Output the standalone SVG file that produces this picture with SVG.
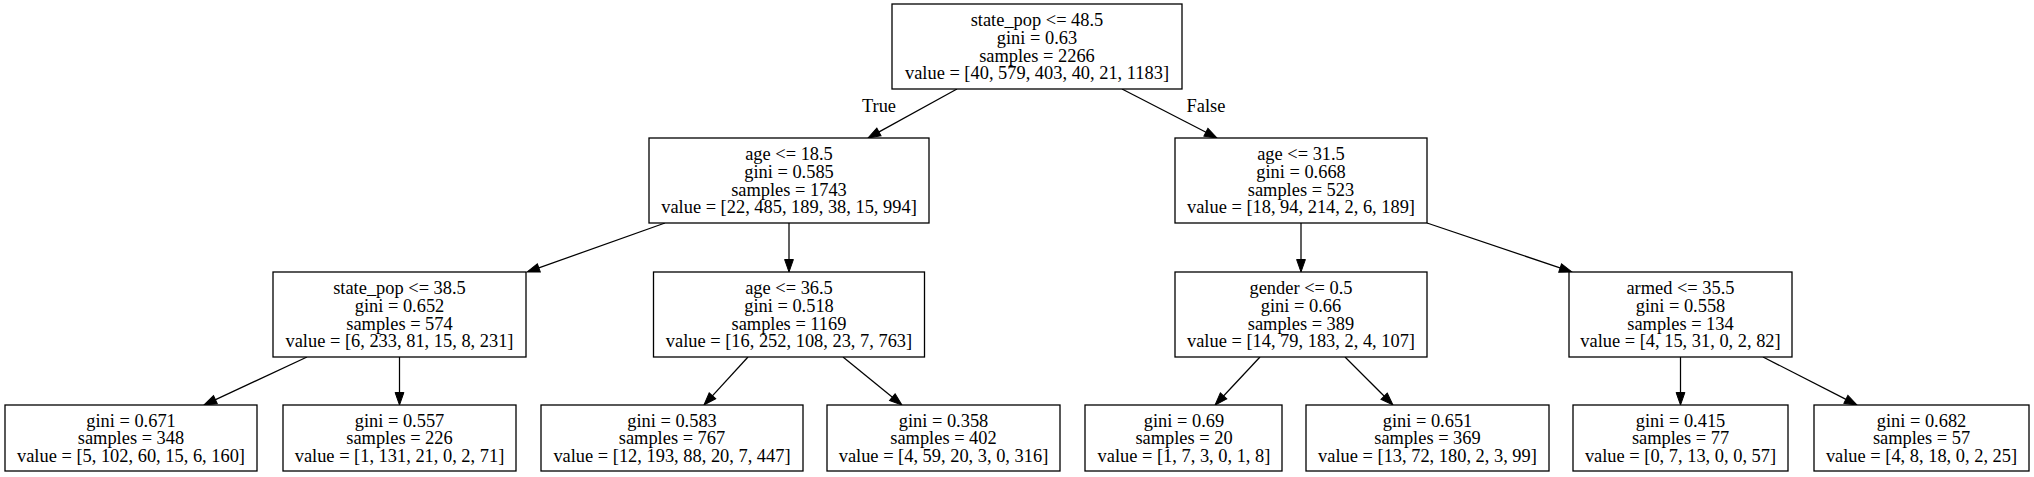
<svg xmlns="http://www.w3.org/2000/svg" width="2034" height="477" viewBox="0 0 2034 477">
<style>
.box{fill:#fff;stroke:#000;stroke-width:1.3}
text{font-family:"Liberation Serif","Times New Roman",serif;font-size:18.4px;fill:#000;text-anchor:middle}
.edge{stroke:#000;stroke-width:1.25;fill:none;marker-end:url(#ah)}
</style>
<defs>
<marker id="ah" markerUnits="userSpaceOnUse" markerWidth="13" markerHeight="9" refX="4.5" refY="4.4" orient="auto" overflow="visible">
<path d="M0,0 L12.5,4.4 L0,8.8 z" fill="#000" stroke="#000" stroke-width="1"/>
</marker>
</defs>
<rect width="2034" height="477" fill="#fff"/>
<g id="edges">
<line class="edge" x1="957" y1="89" x2="875" y2="134.1"/>
<line class="edge" x1="1122" y1="89" x2="1209.9" y2="134.3"/>
<line class="edge" x1="665" y1="223" x2="534.6" y2="269.4"/>
<line class="edge" x1="789" y1="223" x2="789" y2="264"/>
<line class="edge" x1="1301" y1="223" x2="1301" y2="264"/>
<line class="edge" x1="1427" y1="223" x2="1564.4" y2="269.4"/>
<line class="edge" x1="307" y1="357" x2="211.3" y2="401.6"/>
<line class="edge" x1="399.5" y1="357" x2="399.5" y2="397"/>
<line class="edge" x1="748" y1="357" x2="709.4" y2="399.1"/>
<line class="edge" x1="843" y1="357" x2="895.8" y2="400"/>
<line class="edge" x1="1260" y1="357" x2="1220.5" y2="399.2"/>
<line class="edge" x1="1345" y1="357" x2="1387.3" y2="399.3"/>
<line class="edge" x1="1680.5" y1="357" x2="1680.5" y2="397"/>
<line class="edge" x1="1763" y1="357" x2="1849.9" y2="401.4"/>
<text x="879" y="112">True</text>
<text x="1206" y="112">False</text>
</g>
<g id="n0">
<rect class="box" x="892" y="4" width="290" height="85"/>
<text x="1037" y="26">state_pop &lt;= 48.5</text>
<text x="1037" y="43.8">gini = 0.63</text>
<text x="1037" y="61.6">samples = 2266</text>
<text x="1037" y="79.4">value = [40, 579, 403, 40, 21, 1183]</text>
</g>
<g id="n1">
<rect class="box" x="649" y="138" width="280" height="85"/>
<text x="789" y="160">age &lt;= 18.5</text>
<text x="789" y="177.8">gini = 0.585</text>
<text x="789" y="195.6">samples = 1743</text>
<text x="789" y="213.4">value = [22, 485, 189, 38, 15, 994]</text>
</g>
<g id="n2">
<rect class="box" x="273" y="272" width="253" height="85"/>
<text x="399.5" y="294">state_pop &lt;= 38.5</text>
<text x="399.5" y="311.8">gini = 0.652</text>
<text x="399.5" y="329.6">samples = 574</text>
<text x="399.5" y="347.4">value = [6, 233, 81, 15, 8, 231]</text>
</g>
<g id="n3">
<rect class="box" x="5" y="405" width="252" height="66"/>
<text x="131" y="426.5">gini = 0.671</text>
<text x="131" y="444.3">samples = 348</text>
<text x="131" y="462.1">value = [5, 102, 60, 15, 6, 160]</text>
</g>
<g id="n4">
<rect class="box" x="283" y="405" width="233" height="66"/>
<text x="399.5" y="426.5">gini = 0.557</text>
<text x="399.5" y="444.3">samples = 226</text>
<text x="399.5" y="462.1">value = [1, 131, 21, 0, 2, 71]</text>
</g>
<g id="n5">
<rect class="box" x="653.5" y="272" width="271" height="85"/>
<text x="789" y="294">age &lt;= 36.5</text>
<text x="789" y="311.8">gini = 0.518</text>
<text x="789" y="329.6">samples = 1169</text>
<text x="789" y="347.4">value = [16, 252, 108, 23, 7, 763]</text>
</g>
<g id="n6">
<rect class="box" x="541" y="405" width="262" height="66"/>
<text x="672" y="426.5">gini = 0.583</text>
<text x="672" y="444.3">samples = 767</text>
<text x="672" y="462.1">value = [12, 193, 88, 20, 7, 447]</text>
</g>
<g id="n7">
<rect class="box" x="827" y="405" width="233" height="66"/>
<text x="943.5" y="426.5">gini = 0.358</text>
<text x="943.5" y="444.3">samples = 402</text>
<text x="943.5" y="462.1">value = [4, 59, 20, 3, 0, 316]</text>
</g>
<g id="n8">
<rect class="box" x="1175" y="138" width="252" height="85"/>
<text x="1301" y="160">age &lt;= 31.5</text>
<text x="1301" y="177.8">gini = 0.668</text>
<text x="1301" y="195.6">samples = 523</text>
<text x="1301" y="213.4">value = [18, 94, 214, 2, 6, 189]</text>
</g>
<g id="n9">
<rect class="box" x="1175" y="272" width="252" height="85"/>
<text x="1301" y="294">gender &lt;= 0.5</text>
<text x="1301" y="311.8">gini = 0.66</text>
<text x="1301" y="329.6">samples = 389</text>
<text x="1301" y="347.4">value = [14, 79, 183, 2, 4, 107]</text>
</g>
<g id="n10">
<rect class="box" x="1085" y="405" width="197" height="66"/>
<text x="1184" y="426.5">gini = 0.69</text>
<text x="1184" y="444.3">samples = 20</text>
<text x="1184" y="462.1">value = [1, 7, 3, 0, 1, 8]</text>
</g>
<g id="n11">
<rect class="box" x="1306" y="405" width="243" height="66"/>
<text x="1427.5" y="426.5">gini = 0.651</text>
<text x="1427.5" y="444.3">samples = 369</text>
<text x="1427.5" y="462.1">value = [13, 72, 180, 2, 3, 99]</text>
</g>
<g id="n12">
<rect class="box" x="1569" y="272" width="223" height="85"/>
<text x="1680.5" y="294">armed &lt;= 35.5</text>
<text x="1680.5" y="311.8">gini = 0.558</text>
<text x="1680.5" y="329.6">samples = 134</text>
<text x="1680.5" y="347.4">value = [4, 15, 31, 0, 2, 82]</text>
</g>
<g id="n13">
<rect class="box" x="1573" y="405" width="215" height="66"/>
<text x="1680.5" y="426.5">gini = 0.415</text>
<text x="1680.5" y="444.3">samples = 77</text>
<text x="1680.5" y="462.1">value = [0, 7, 13, 0, 0, 57]</text>
</g>
<g id="n14">
<rect class="box" x="1814" y="405" width="215" height="66"/>
<text x="1921.5" y="426.5">gini = 0.682</text>
<text x="1921.5" y="444.3">samples = 57</text>
<text x="1921.5" y="462.1">value = [4, 8, 18, 0, 2, 25]</text>
</g>
</svg>
